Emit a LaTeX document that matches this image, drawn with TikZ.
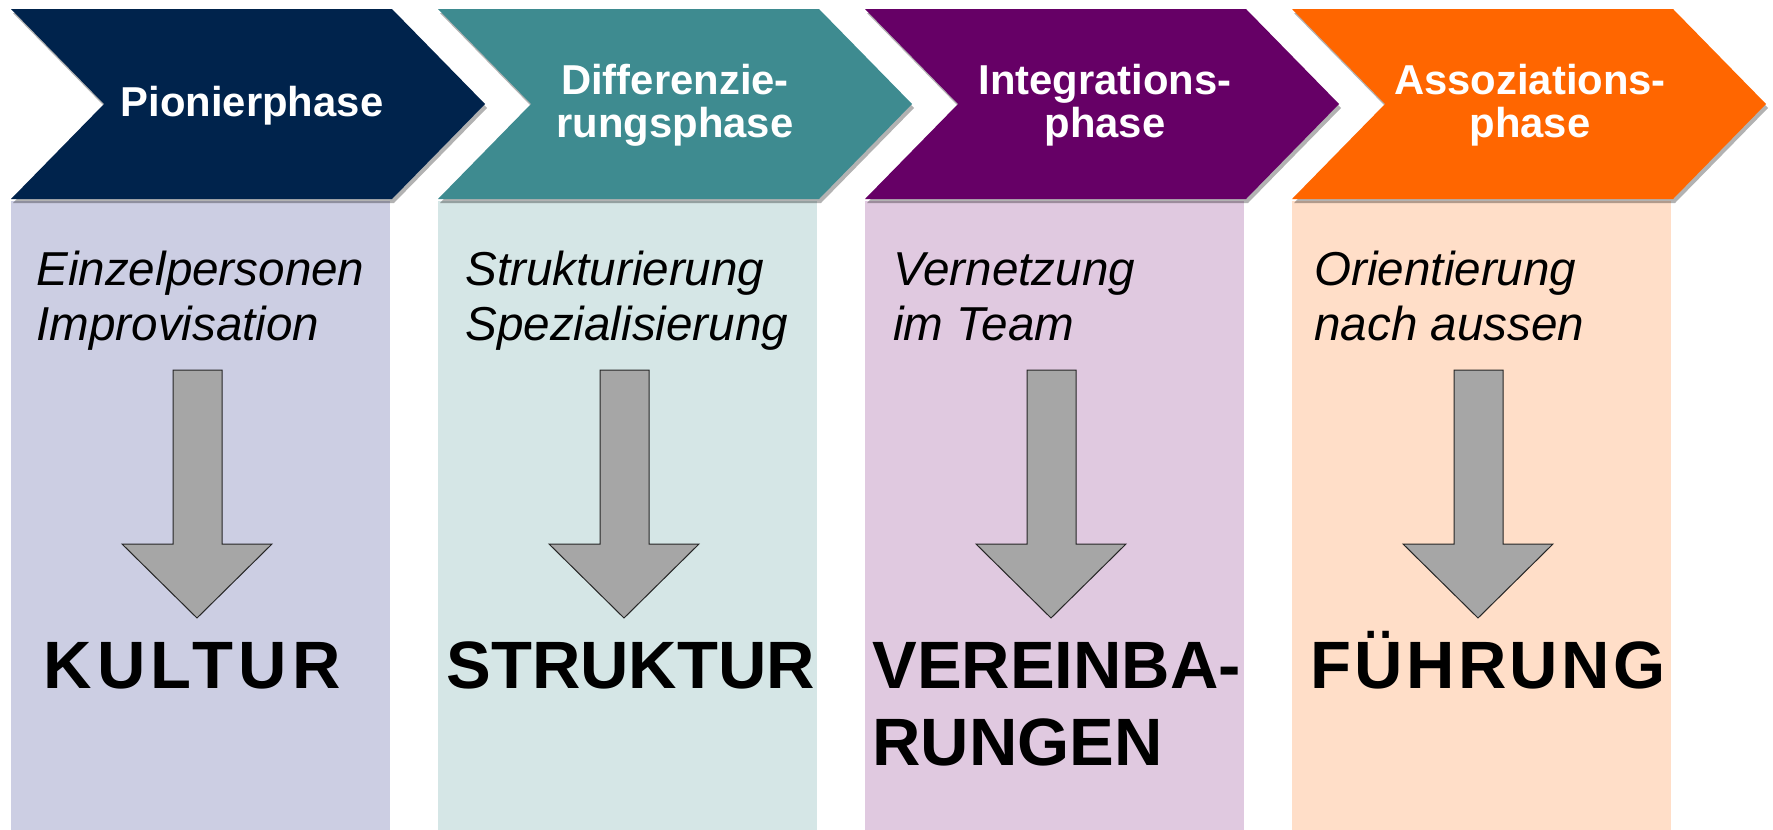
\documentclass[tikz,border=0pt]{standalone}
\usepackage{fontspec}
\setmainfont{Liberation Sans}
\newfontfamily\spacedA[LetterSpace=8]{Liberation Sans}
\newfontfamily\spacedB[LetterSpace=5]{Liberation Sans}
\usetikzlibrary{shadows}
\definecolor{navyc}{RGB}{0,35,76}
\definecolor{tealc}{RGB}{62,139,144}
\definecolor{purpc}{RGB}{102,0,102}
\definecolor{orngc}{RGB}{255,102,0}
\definecolor{lavc}{RGB}{204,206,227}
\definecolor{ltealc}{RGB}{213,230,230}
\definecolor{lilc}{RGB}{224,201,224}
\definecolor{peachc}{RGB}{255,222,200}
\definecolor{arrowc}{RGB}{166,166,166}
\tikzset{
  panelbox/.style={fill=#1, draw=none},
  chevbox/.style={fill=#1, draw=none, drop shadow={shadow xshift=1pt, shadow yshift=-2pt, opacity=0.3, fill=black}},
  bigarrow/.style={fill=arrowc, draw=black!85, line width=0.5pt, line join=miter},
  hdr/.style={font=\fontsize{20.9}{21.5}\selectfont\bfseries, text=white, inner sep=0pt, anchor=base},
  itxt/.style={font=\fontsize{23.8}{27.5}\selectfont\itshape, text=black, inner sep=0pt, anchor=base west},
  bigw/.style={font=\fontsize{33.5}{38.5}\selectfont\bfseries, text=black, inner sep=0pt, anchor=base west}
}
\begin{document}
\begin{tikzpicture}[x=0.5pt,y=-0.5pt]
\useasboundingbox (0,0) rectangle (1773,830);
\fill[white] (0,0) rectangle (1773,830);
% panels
\foreach \L/\pc in {11/lavc, 438/ltealc, 865/lilc, 1292/peachc}{
  \path[panelbox=\pc] (\L,201) rectangle (\L+379,830);
}
% chevrons
\foreach \L/\cc in {11/navyc, 438/tealc, 865/purpc, 1292/orngc}{
  \path[chevbox=\cc] (\L,9) -- (\L+381,9) -- (\L+474,104) -- (\L+381,199) -- (\L,199) -- (\L+93,104) -- cycle;
}
% down arrows
\foreach \L in {11, 438, 865, 1292}{
  \path[bigarrow] (\L+162,370) -- (\L+211,370) -- (\L+211,544) -- (\L+261,544) -- (\L+186,618) -- (\L+111,544) -- (\L+162,544) -- cycle;
}
% headers
\node[hdr] (h1) at (252,116) {Pionierphase};
\node[hdr] (h2) at (675,94) {\begin{tabular}[t]{@{}c@{}}Differenzie-\\rungsphase\end{tabular}};
\node[hdr] (h3) at (1105,94) {\begin{tabular}[t]{@{}c@{}}Integrations-\\phase\end{tabular}};
\node[hdr] (h4) at (1530,94) {\begin{tabular}[t]{@{}c@{}}Assoziations-\\phase\end{tabular}};
% italic texts
\node[itxt] (t1) at (36,285) {\begin{tabular}[t]{@{}l@{}}Einzelpersonen\\Improvisation\end{tabular}};
\node[itxt] (t2) at (465,285) {\begin{tabular}[t]{@{}l@{}}Strukturierung\\Spezialisierung\end{tabular}};
\node[itxt] (t3) at (893,285) {\begin{tabular}[t]{@{}l@{}}Vernetzung\\im Team\end{tabular}};
\node[itxt] (t4) at (1314,285) {\begin{tabular}[t]{@{}l@{}}Orientierung\\nach aussen\end{tabular}};
% big words
\node[bigw] (w1) at (43,688) {\spacedA\bfseries KULTUR};
\node[bigw] (w2) at (446,688) {STRUKTUR};
\node[bigw] (w3) at (872,688) {\begin{tabular}[t]{@{}l@{}}VEREINBA-\\RUNGEN\end{tabular}};
\node[bigw] (w4) at (1310,688) {\spacedB\bfseries FÜHRUNG};
\end{tikzpicture}
\end{document}
